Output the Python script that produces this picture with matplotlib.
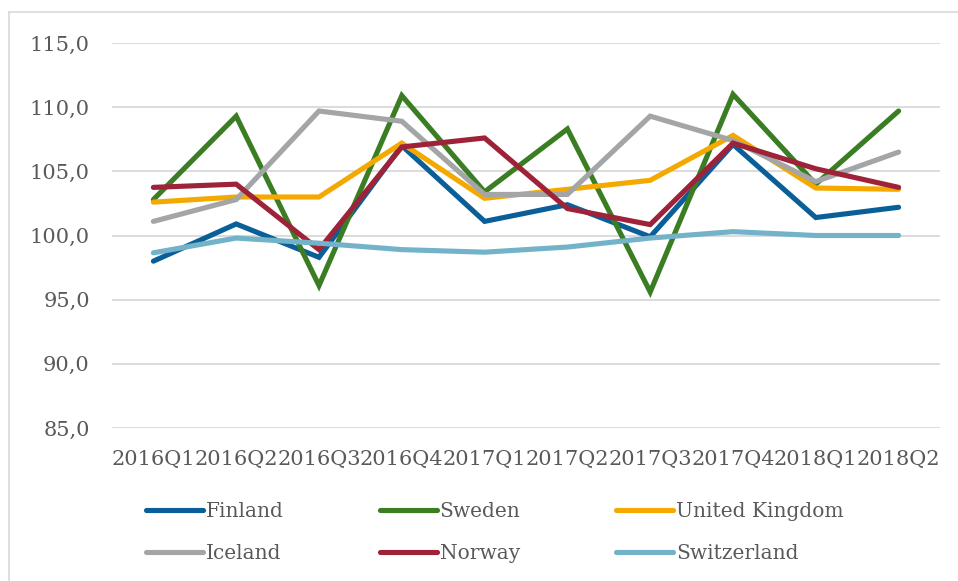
import matplotlib
matplotlib.use("Agg")
import matplotlib.pyplot as plt
from matplotlib.ticker import FuncFormatter, MultipleLocator
from matplotlib.lines import Line2D

categories = ["2016Q1", "2016Q2", "2016Q3", "2016Q4", "2017Q1",
              "2017Q2", "2017Q3", "2017Q4", "2018Q1", "2018Q2"]

finland = [98.0, 100.9, 98.3, 107.0, 101.1, 102.4, 99.9, 107.1, 101.4, 102.2]
sweden = [102.8, 109.3, 96.1, 110.9, 103.4, 108.3, 95.6, 111.0, 104.0, 109.7]
united_kingdom = [102.6, 103.0, 103.0, 107.2, 102.9, 103.6, 104.3, 107.8, 103.7, 103.6]
iceland = [101.1, 102.8, 109.7, 108.9, 103.2, 103.2, 109.3, 107.4, 104.2, 106.5]
norway = [103.75, 104.0, 98.9, 106.9, 107.6, 102.1, 100.85, 107.2, 105.2, 103.75]
switzerland = [98.65, 99.8, 99.4, 98.9, 98.7, 99.1, 99.8, 100.3, 100.0, 100.0]

series_names = ["Finland", "Sweden", "United Kingdom", "Iceland", "Norway", "Switzerland"]
series_values = [finland, sweden, united_kingdom, iceland, norway, switzerland]
colors = ["#0B5F99", "#3B7D23", "#F4A900", "#A3A5A6", "#9E2238", "#73B3C9"]

text_color = "#595959"
plt.rcParams["font.family"] = ["DejaVu Serif"]

W, H = 958, 581
fig = plt.figure(figsize=(W / 100, H / 100), dpi=100)
fig.patch.set_facecolor("white")

# chart frame (top and left edges visible)
fig.add_artist(Line2D([9 / W, 9 / W], [0, 1 - 12 / H], transform=fig.transFigure,
                      color="#D9D9D9", lw=1.2))
fig.add_artist(Line2D([9 / W, 1], [1 - 12 / H, 1 - 12 / H], transform=fig.transFigure,
                      color="#D9D9D9", lw=1.2))

left, right, top, bottom = 112, 940, 43, 428
ax = fig.add_axes([left / W, 1 - bottom / H, (right - left) / W, (bottom - top) / H])

x = list(range(len(categories)))
handles = []
for name, vals, c in zip(series_names, series_values, colors):
    (ln,) = ax.plot(x, vals, color=c, lw=3.7, solid_capstyle="round",
                    solid_joinstyle="miter", label=name, zorder=3)
    handles.append(ln)

ax.set_xlim(-0.5, len(categories) - 0.5)
ax.set_ylim(85, 115)
ax.yaxis.set_major_locator(MultipleLocator(5))
ax.yaxis.set_major_formatter(FuncFormatter(lambda v, p: f"{v:.1f}".replace(".", ",")))
ax.set_xticks(x)
ax.set_xticklabels(categories)
ax.grid(axis="y", color="#D9D9D9", lw=1.3, zorder=0)
ax.set_axisbelow(True)
for s in ax.spines.values():
    s.set_visible(False)
ax.tick_params(axis="both", length=0, colors=text_color, labelsize=15)
ax.tick_params(axis="x", pad=16)
ax.tick_params(axis="y", pad=16)

order = [0, 3, 1, 4, 2, 5]
leg = fig.legend([handles[i] for i in order], [series_names[i] for i in order],
                 ncol=3, loc="center left", bbox_to_anchor=(146 / W, 1 - 532.5 / H),
                 frameon=False, fontsize=14.5, handlelength=2.83, handletextpad=0.15,
                 columnspacing=4.75, labelspacing=1.15, borderpad=0, borderaxespad=0)
for t in leg.get_texts():
    t.set_color(text_color)
for lh in leg.get_lines():
    lh.set_linewidth(3.7)
    lh.set_solid_capstyle("round")

fig.savefig("out.png", dpi=100)
